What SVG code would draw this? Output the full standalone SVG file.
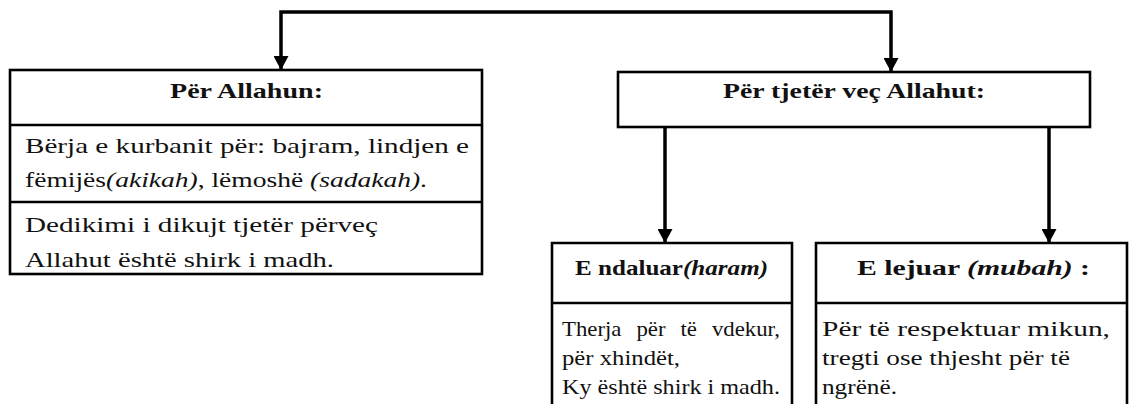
<svg xmlns="http://www.w3.org/2000/svg" width="1135" height="404" viewBox="0 0 1135 404">
<defs>
<style>
.box{fill:#fff;stroke:#000;stroke-width:2.6}
.ln{fill:none;stroke:#000;stroke-width:2.6}
.con{fill:none;stroke:#000;stroke-width:3.5}
.t{font-family:"Liberation Serif","DejaVu Serif",serif;font-size:22px;fill:#111}
.h{font-family:"Liberation Serif","DejaVu Serif",serif;font-size:22px;font-weight:bold;fill:#111}
.i{font-style:italic}
</style>
<marker id="ah" viewBox="0 0 14 15" refX="14" refY="7.5" markerWidth="14" markerHeight="15" markerUnits="userSpaceOnUse" orient="auto">
<path d="M0,0 L14,7.5 L0,15 z" fill="#000"/>
</marker>
</defs>
<g id="connectors">
<path class="con" d="M586,12 H281 V70" marker-end="url(#ah)"/>
<path class="con" d="M586,12 H891 V72" marker-end="url(#ah)"/>
<path class="con" d="M665,127 V243" marker-end="url(#ah)"/>
<path class="con" d="M1049,127 V243" marker-end="url(#ah)"/>
</g>
<g id="node-allahun">
<rect class="box" x="10" y="70" width="472" height="204"/>
<line class="ln" x1="10" y1="125" x2="482" y2="125"/>
<line class="ln" x1="10" y1="202" x2="482" y2="202"/>
<text class="h" x="170" y="98" textLength="153" lengthAdjust="spacingAndGlyphs">Për Allahun:</text>
<text class="t" x="25" y="153" textLength="444" lengthAdjust="spacingAndGlyphs">Bërja e kurbanit për: bajram, lindjen e</text>
<text class="t" x="25" y="187" textLength="402" lengthAdjust="spacingAndGlyphs">fëmijës<tspan class="i">(akikah)</tspan>, lëmoshë <tspan class="i">(sadakah)</tspan>.</text>
<text class="t" x="25" y="232" textLength="353" lengthAdjust="spacingAndGlyphs">Dedikimi i dikujt tjetër përveç</text>
<text class="t" x="25" y="267" textLength="309" lengthAdjust="spacingAndGlyphs">Allahut është shirk i madh.</text>
</g>
<g id="node-tjeter">
<rect class="box" x="618" y="72" width="472" height="55"/>
<text class="h" x="723" y="98" textLength="262" lengthAdjust="spacingAndGlyphs">Për tjetër veç Allahut:</text>
</g>
<g id="node-haram">
<path class="box" d="M552,410 V243 H792 V410"/>
<line class="ln" x1="552" y1="303" x2="792" y2="303"/>
<text class="h" x="575" y="275" textLength="193" lengthAdjust="spacingAndGlyphs">E ndaluar<tspan class="i">(haram)</tspan></text>
<text class="t" x="562" y="336" textLength="218" lengthAdjust="spacingAndGlyphs" word-spacing="9">Therja për të vdekur,</text>
<text class="t" x="562" y="365" textLength="118" lengthAdjust="spacingAndGlyphs">për xhindët,</text>
<text class="t" x="562" y="394" textLength="218" lengthAdjust="spacingAndGlyphs">Ky është shirk i madh.</text>
</g>
<g id="node-mubah">
<path class="box" d="M816,410 V243 H1127 V410"/>
<line class="ln" x1="816" y1="303" x2="1127" y2="303"/>
<text class="h" x="857" y="275" textLength="233" lengthAdjust="spacingAndGlyphs">E lejuar <tspan class="i">(mubah)</tspan> :</text>
<text class="t" x="822" y="336" textLength="288" lengthAdjust="spacingAndGlyphs">Për të respektuar mikun,</text>
<text class="t" x="822" y="365" textLength="248" lengthAdjust="spacingAndGlyphs">tregti ose thjesht për të</text>
<text class="t" x="822" y="394" textLength="75" lengthAdjust="spacingAndGlyphs">ngrënë.</text>
</g>
</svg>
